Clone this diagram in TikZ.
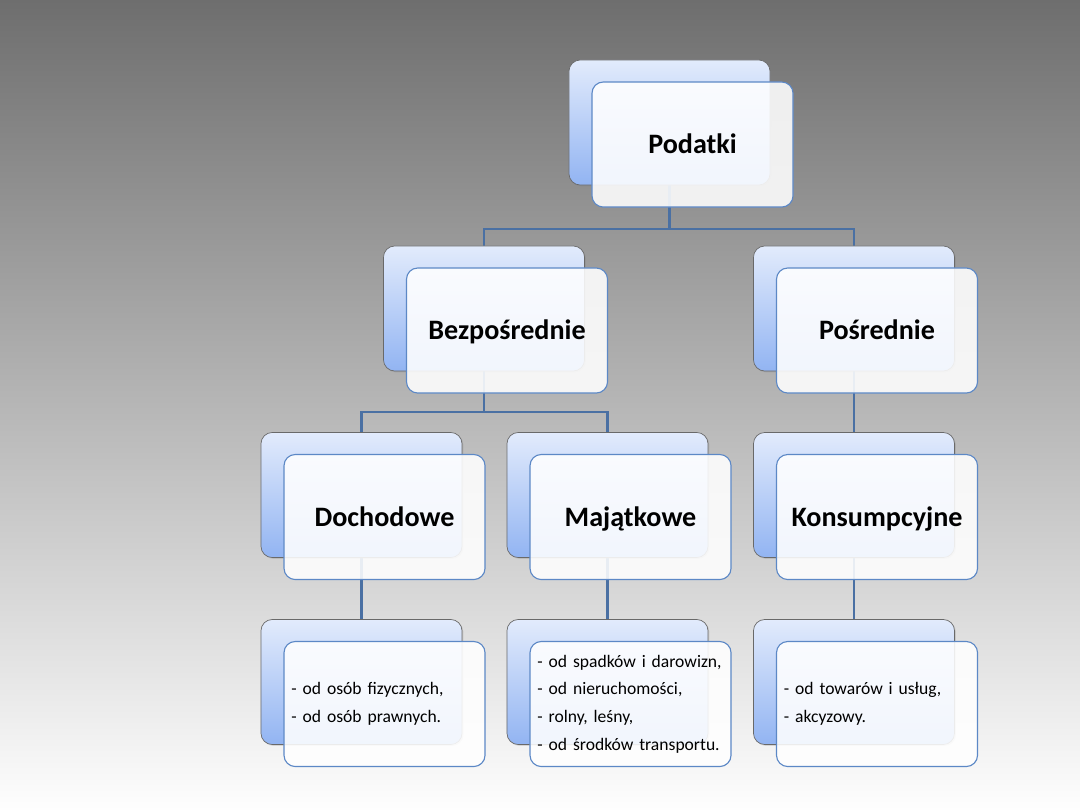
\documentclass[tikz,border=0pt]{standalone}
\usepackage{fontspec}
\setmainfont{Carlito}
\usetikzlibrary{positioning,shadows,backgrounds}

\definecolor{bgtop}{RGB}{110,110,110}
\definecolor{bgbot}{RGB}{254,254,254}
\definecolor{boxtop}{RGB}{226,235,252}
\definecolor{boxbot}{RGB}{146,180,242}
\definecolor{boxline}{RGB}{105,105,105}
\definecolor{frontline}{RGB}{92,136,198}
\definecolor{linkblue}{RGB}{74,112,163}

\begin{document}
\begin{tikzpicture}[x=0.025cm,y=-0.025cm,node distance=0.55cm and 0.575cm,on grid,
 back/.style={rectangle,rounded corners=8pt,minimum width=5.025cm,minimum height=3.125cm,
  top color=boxtop,bottom color=boxbot,draw=boxline,line width=0.5pt,
  drop shadow={opacity=0.25,shadow xshift=1pt,shadow yshift=-1pt}},
 front/.style={rectangle,rounded corners=8pt,minimum width=5.025cm,minimum height=3.125cm,
  fill=white,fill opacity=0.88,text opacity=1,draw=frontline,line width=0.8pt,
  font=\fontsize{20}{24}\selectfont\bfseries,text height=13pt,text depth=0pt},
 list/.style={front,font=\fontsize{12.5}{19.6}\selectfont,align=left,text width=4.65cm,
  text height=,text depth=},
 conn/.style={draw=linkblue,line width=1.8pt}]

% level 1
\node[back] (pb) at (669.5,122.5) {};
\node[front,below right=of pb] (p) {Podatki};
% level 2
\node[back] (bb) at (484,308.5) {};
\node[front,below right=of bb] (b) {Bezpośrednie};
\node[back] (sb) at (854,308.5) {};
\node[front,below right=of sb] (s) {Pośrednie};
% level 3
\node[back] (db) at (361.5,495) {};
\node[front,below right=of db] (d) {Dochodowe};
\node[back] (mb) at (607.5,495) {};
\node[front,below right=of mb] (m) {Majątkowe};
\node[back] (kb) at (854,495) {};
\node[front,below right=of kb] (k) {Konsumpcyjne};
% level 4
\node[back] (dlb) at (361.5,682) {};
\node[list,below right=of dlb] (dl) {- od osób fizycznych,\\- od osób prawnych.};
\node[back] (mlb) at (607.5,682) {};
\node[list,below right=of mlb] (ml) {- od spadków i darowizn,\\- od nieruchomości,\\- rolny, leśny,\\- od środków transportu.};
\node[back] (klb) at (854,682) {};
\node[list,below right=of klb] (kl) {- od towarów i usług,\\- akcyzowy.};

\begin{pgfonlayer}{background}
\shade[top color=bgtop,bottom color=bgbot] (0,0) rectangle (1080,810);
\coordinate (j1) at (669.5,229);
\coordinate (j2) at (484,412);
\draw[conn] (pb.center) -- (j1) -| (bb.center);
\draw[conn] (j1) -| (sb.center);
\draw[conn] (bb.center) -- (j2) -| (db.center);
\draw[conn] (j2) -| (mb.center);
\draw[conn] (sb.center) -- (kb.center);
\draw[conn] (db.center) -- (dlb.center);
\draw[conn] (mb.center) -- (mlb.center);
\draw[conn] (kb.center) -- (klb.center);
\end{pgfonlayer}
\end{tikzpicture}
\end{document}
